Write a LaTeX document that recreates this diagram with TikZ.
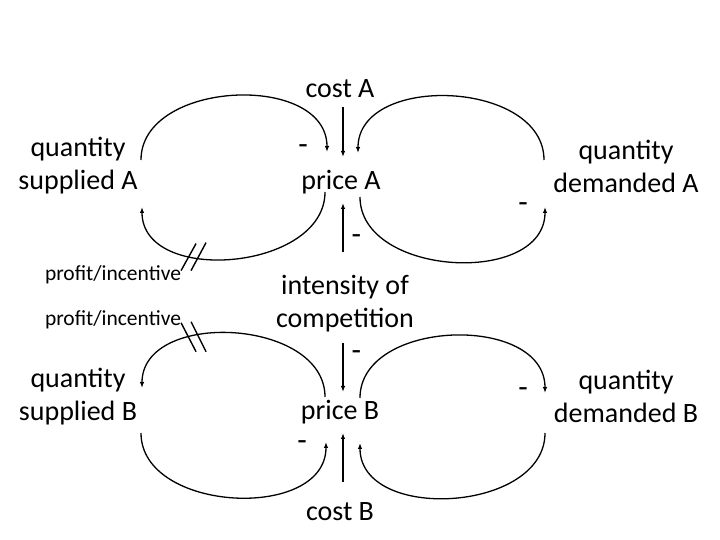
\documentclass[tikz,border=0pt]{standalone}
\usepackage{fontspec}
\setmainfont{Carlito}
\usetikzlibrary{arrows.meta,positioning}
\definecolor{ink}{HTML}{000000}
\tikzset{
  every node/.style={font=\fontsize{28}{33}\selectfont, text=ink},
  var/.style={align=center, inner sep=0pt},
  smallvar/.style={var, font=\fontsize{21.5}{26}\selectfont},
  sign/.style={inner sep=0pt, font=\fontsize{31}{33}\selectfont},
  arrow/.style={-{Latex[length=6pt,width=4.5pt]}, line width=1.4pt, draw=ink},
  loopline/.style={-{Latex[length=6pt,width=4.5pt]}, line width=1.3pt, draw=ink, looseness=1.1},
  delaymark/.style={line width=1.4pt, draw=ink},
}
\begin{document}
\begin{tikzpicture}[x=1pt,y=1pt]
\useasboundingbox (0,0) rectangle (720,540);
\node[var] (costA) at (340,451) {cost A};
\node[var] (priceA) at (341,358) {price A};
\node[var] (qsA) at (78,374) {quantity\\supplied A};
\node[var] (qdA) at (626,374) {quantity\\demanded A};
\node[smallvar] (profA) at (113,265) {profit/incentive};
\node[smallvar] (profB) at (113,220) {profit/incentive};
\node[var] (intens) at (345,236.5) {intensity of\\competition};
\node[var] (qsB) at (78,143) {quantity\\supplied B};
\node[var] (priceB) at (340,128) {price B};
\node[var] (qdB) at (626,144) {quantity\\demanded B};
\node[var] (costB) at (340,28) {cost B};
\draw[arrow] ([shift={(3,-18)}]costA.center) -- ([shift={(2,25)}]priceA.center);
\draw[arrow] ([shift={(-2,51.5)}]intens.center) -- node[sign,right=8pt,pos=.25]{-} ([shift={(2,-21)}]priceA.center);
\draw[arrow] ([shift={(-2,-39.5)}]intens.center) -- node[sign,right=8pt,pos=.25]{-} ([shift={(3,20)}]priceB.center);
\draw[arrow] ([shift={(3,30)}]costB.center) -- ([shift={(3,-21)}]priceB.center);
\draw[loopline] ([shift={(63,6)}]qsA.center) to[out=90,in=90] ([shift={(-14,30)}]priceA.center);
\draw[loopline] ([shift={(-16,-10)}]priceA.center) to[out=-90,in=-90] coordinate[pos=.65] (dA) ([shift={(64,-41)}]qsA.center);
\draw[loopline] ([shift={(-82,6)}]qdA.center) to[out=90,in=90] ([shift={(17,29)}]priceA.center);
\draw[loopline] ([shift={(19,-15)}]priceA.center) to[out=-90,in=-90] ([shift={(-81,-41)}]qdA.center);
\draw[loopline] ([shift={(-15,15)}]priceB.center) to[out=90,in=90] coordinate[pos=.65] (dB) ([shift={(64,9)}]qsB.center);
\draw[loopline] ([shift={(63,-36)}]qsB.center) to[out=-90,in=-90] ([shift={(-14,-30)}]priceB.center);
\draw[loopline] ([shift={(20,14)}]priceB.center) to[out=90,in=90] ([shift={(-81,3)}]qdB.center);
\draw[loopline] ([shift={(-81,-37)}]qdB.center) to[out=-90,in=-90] ([shift={(20,-31)}]priceB.center);
\draw[delaymark] ([shift={(-12.5,-14)}]dA) -- ([shift={(2.5,13)}]dA);\draw[delaymark] ([shift={(-2.5,-14)}]dA) -- ([shift={(12.5,14)}]dA);
\draw[delaymark] ([shift={(-12.5,14)}]dB) -- ([shift={(2.5,-15)}]dB);\draw[delaymark] ([shift={(-2.5,15)}]dB) -- ([shift={(12.5,-15)}]dB);
\node[sign] (sA1) at (303,390) {-};
\node[sign] (sA2) at (523,332) {-};
\node[sign] (sB1) at (302,94) {-};
\node[sign] (sB2) at (523,147) {-};
\end{tikzpicture}
\end{document}
